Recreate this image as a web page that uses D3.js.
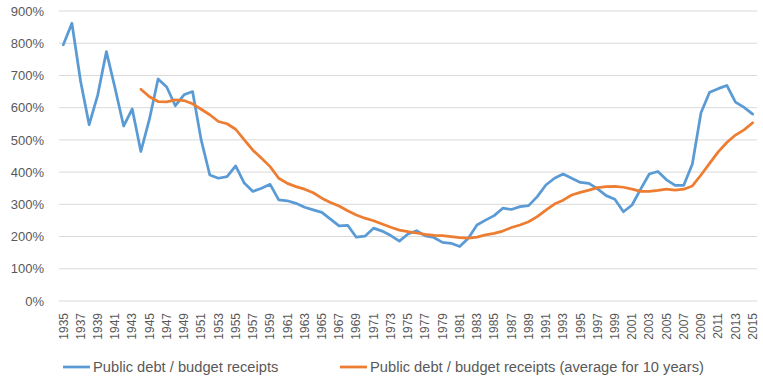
<!DOCTYPE html>
<html><head><meta charset="utf-8">
<script src="https://cdn.jsdelivr.net/npm/d3@7"></script>
<style>body{margin:0;background:#fff;}svg{display:block;}</style>
</head><body>
<svg id="c" width="763" height="382"></svg>
<script>
const years = d3.range(1935, 2016);
const debtRatio = [795,862,683,547,640,774,661,543,596,464,565,689,664,606,640,650,500,391,381,386,419,366,340,350,362,314,311,303,291,283,275,254,233,235,198,201,226,217,203,186,208,218,202,197,182,179,169,195,236,251,265,288,284,293,296,324,360,381,394,381,368,365,348,327,316,277,298,347,394,402,376,359,359,425,584,648,659,669,617,601,580];
const debtAvg10 = [null,null,null,null,null,null,null,null,null,657,634,619,618,624,622,612,595,578,557,550,533,500,468,443,417,381,365,355,347,336,319,306,295,280,267,257,249,239,229,220,215,211,207,204,203,200,197,195,198,205,210,217,228,236,246,262,282,301,313,329,337,344,352,355,356,353,347,340,340,343,347,344,347,357,391,427,463,492,515,531,553];
const yTicks = [0,100,200,300,400,500,600,700,800,900];
const seriesNames = ["Public debt / budget receipts","Public debt / budget receipts (average for 10 years)"];
const colors = ["#5b9bd5","#ed7d31"];

const svg = d3.select("#c");
const font = "'Liberation Sans', Arial, sans-serif";
const mLeft = 59, mRight = 757, mTop = 11, mBottom = 301;

const x = d3.scaleBand().domain(years).range([mLeft, mRight]);
const y = d3.scaleLinear().domain([0, 900]).range([mBottom, mTop]);

// gridlines
svg.append("g").selectAll("line").data(yTicks).join("line")
  .attr("x1", mLeft).attr("x2", mRight)
  .attr("y1", d => y(d)).attr("y2", d => y(d))
  .attr("stroke", "#d9d9d9").attr("stroke-width", 1);

// y labels
const yAxis = d3.axisLeft(y).tickValues(yTicks).tickFormat(d => d + "%").tickSize(0).tickPadding(0);
const gy = svg.append("g").attr("transform", `translate(${mLeft - 15},0)`).call(yAxis);
gy.select(".domain").remove();
gy.selectAll("text").attr("fill", "#595959").style("font-family", font).style("font-size", "13px");

// x labels
const xAxis = d3.axisBottom(x).tickValues(years.filter((d,i) => i % 2 === 0)).tickSize(0).tickPadding(0);
const gx = svg.append("g").attr("transform", `translate(0,${mBottom})`).call(xAxis);
gx.select(".domain").remove();
gx.selectAll("text")
  .attr("fill", "#595959").style("font-family", font).style("font-size", "12px")
  .attr("transform", "rotate(-90)")
  .attr("text-anchor", "end")
  .attr("x", -12).attr("y", 0).attr("dy", "0.35em");

const cx = d => x(d) + x.bandwidth() / 2;
const line = d3.line().defined(d => d[1] != null).x(d => cx(d[0])).y(d => y(d[1]));

[debtRatio, debtAvg10].forEach((s, k) => {
  svg.append("path")
    .datum(years.map((yr, i) => [yr, s[i]]))
    .attr("d", line)
    .attr("fill", "none")
    .attr("stroke", colors[k])
    .attr("stroke-width", 2.75)
    .attr("stroke-linejoin", "round")
    .attr("stroke-linecap", "round");
});

// legend
const legendX = [63, 340];
seriesNames.forEach((n, k) => {
  const g = svg.append("g").attr("transform", `translate(${legendX[k]},367)`);
  g.append("line").attr("x1", 0).attr("x2", 27).attr("y1", 0).attr("y2", 0)
    .attr("stroke", colors[k]).attr("stroke-width", 2.75);
  g.append("text").attr("x", 30).attr("y", 0).attr("dy", "0.35em")
    .attr("fill", "#595959").style("font-family", font).style("font-size", "14.7px").text(n);
});
</script>
</body></html>
